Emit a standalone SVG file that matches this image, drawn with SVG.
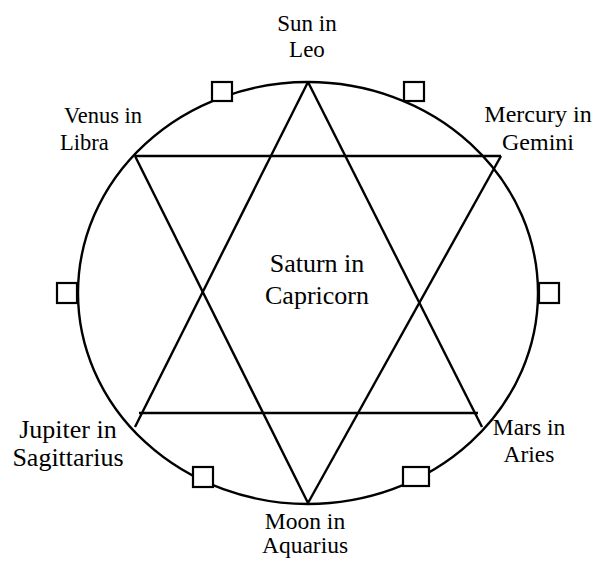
<svg xmlns="http://www.w3.org/2000/svg" width="594" height="561" viewBox="0 0 594 561">
<style>
.ln{stroke:#000;stroke-width:2.4;fill:none;stroke-linecap:butt}
.bx{stroke:#000;stroke-width:2.2;fill:#fff}
text{font-family:"Liberation Serif","Times New Roman",serif;fill:#000}
.c{text-anchor:middle}
</style>
<rect width="594" height="561" fill="#fff"/>
<g id="circle">
<ellipse class="ln" cx="308" cy="293" rx="230" ry="211"/>
</g>
<g id="connectors">
<line class="ln" x1="308" y1="82" x2="135" y2="427"/>
<line class="ln" x1="308" y1="82" x2="482" y2="427"/>
<line class="ln" x1="139" y1="413" x2="478" y2="413"/>
<line class="ln" x1="135" y1="156" x2="501" y2="156"/>
<line class="ln" x1="135" y1="156" x2="308" y2="503"/>
<line class="ln" x1="501" y1="156" x2="308" y2="503"/>
</g>
<g id="markers">
<rect class="bx" x="212" y="82" width="20" height="19"/>
<rect class="bx" x="404" y="82" width="20" height="19"/>
<rect class="bx" x="57" y="283" width="20" height="20"/>
<rect class="bx" x="539" y="283" width="20" height="20"/>
<rect class="bx" x="193" y="467" width="20" height="20"/>
<rect class="bx" x="403" y="467" width="26" height="19"/>
</g>
<g id="sun"><text class="c" x="307" y="31" font-size="23">Sun in</text><text class="c" x="307" y="57" font-size="23">Leo</text></g>
<g id="venus"><text x="64" y="123" font-size="22.5">Venus in</text><text x="60" y="150" font-size="22.5">Libra</text></g>
<g id="mercury"><text class="c" x="538" y="122" font-size="24">Mercury in</text><text class="c" x="538" y="150" font-size="24">Gemini</text></g>
<g id="saturn"><text class="c" x="317" y="272" font-size="26">Saturn in</text><text class="c" x="317" y="304" font-size="26">Capricorn</text></g>
<g id="jupiter"><text class="c" x="68" y="438" font-size="26">Jupiter in</text><text class="c" x="68" y="466" font-size="26">Sagittarius</text></g>
<g id="mars"><text class="c" x="529" y="435" font-size="23.5">Mars in</text><text class="c" x="529" y="462" font-size="23.5">Aries</text></g>
<g id="moon"><text class="c" x="305" y="529" font-size="23.5">Moon in</text><text class="c" x="305" y="553" font-size="23.5">Aquarius</text></g>
</svg>
